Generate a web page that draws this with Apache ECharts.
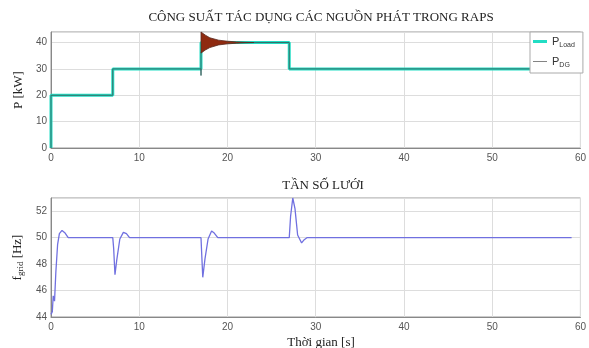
<!DOCTYPE html>
<html>
<head>
<meta charset="utf-8">
<script src="https://cdn.jsdelivr.net/npm/echarts@6/dist/echarts.min.js"></script>
<style>
  html, body { margin: 0; padding: 0; background: #fff; }
  #chart { width: 589px; height: 348px; }
</style>
</head>
<body>
<div id="chart"></div>
<script>
// cong suat phu tai (bac thang)
const pLoad = [[0, 0], [0, 20], [7, 20], [7, 30], [17, 30], [17, 40], [27, 40], [27, 30], [60, 30]]
// cong suat DG, ngoai doan dao dong
const pDG = [[0, 0], [0, 20], [7, 20], [7, 30], [17, 30], [17, 27.5], [17, 36], [17.3, 40], [23, 40], [27, 40], [27, 30], [60, 30]]
// bao tren / duoi cua dao dong P_DG sau t=17
const envT = [17, 17.5, 18, 19, 20, 21, 22, 23]
const envHi = [44, 42.8, 41.8, 40.9, 40.5, 40.25, 40.1, 40]
const envLo = [36, 37.2, 38.1, 39.1, 39.5, 39.75, 39.9, 40]
// tan so luoi
const fGrid = [
  [0, 44.2], [0.15, 44.4], [0.25, 45.6], [0.4, 45.2], [0.55, 47.4], [0.75, 49.5], [0.95, 50.3],
  [1.25, 50.55], [1.6, 50.35], [1.95, 50.0], [7, 50], [7.1, 49.2], [7.25, 47.2], [7.45, 48.3],
  [7.8, 49.9], [8.2, 50.4], [8.55, 50.3], [8.9, 50], [17, 50], [17.05, 49.2], [17.2, 47.0],
  [17.45, 48.4], [17.8, 49.9], [18.2, 50.5], [18.5, 50.35], [18.9, 50], [27, 50], [27.15, 51.6],
  [27.4, 53.0], [27.65, 52.2], [27.95, 50.2], [28.4, 49.6], [28.7, 49.85], [29, 50], [59, 50]
]
const xTicks = [0, 10, 20, 30, 40, 50, 60]
const pTicks = [0, 10, 20, 30, 40]
const fTicks = [44, 46, 48, 50, 52]

const chart = echarts.init(document.getElementById('chart'))

const serif = 'Liberation Serif'
const sans = 'Liberation Sans'

function xAxis(idx) {
  return {
    type: 'value', gridIndex: idx, min: 0, max: 60, interval: 10,
    axisLine: { lineStyle: { color: '#888' } },
    axisTick: { show: false },
    axisLabel: { color: '#555', fontFamily: sans, fontSize: 10, margin: 5,
      formatter: v => xTicks.includes(v) ? v : '' },
    splitLine: { lineStyle: { color: '#ddd' } },
  }
}

const option = {
  animation: false,
  title: [
    { text: 'CÔNG SUẤT TÁC DỤNG CÁC NGUỒN PHÁT TRONG RAPS', left: 316, top: 6, textAlign: 'center',
      textStyle: { fontFamily: serif, fontSize: 13, fontWeight: 'normal', color: '#222' } },
    { text: 'TẦN SỐ LƯỚI', left: 318, top: 174, textAlign: 'center',
      textStyle: { fontFamily: serif, fontSize: 13, fontWeight: 'normal', color: '#222' } },
    { text: 'Thời gian [s]', left: 316, top: 331, textAlign: 'center',
      textStyle: { fontFamily: serif, fontSize: 13, fontWeight: 'normal', color: '#222' } },
  ],
  grid: [
    { left: 51, top: 32, width: 531, height: 116, show: true, borderColor: '#999', borderWidth: 1 },
    { left: 51, top: 198, width: 531, height: 119, show: true, borderColor: '#999', borderWidth: 1 },
  ],
  xAxis: [xAxis(0), xAxis(1)],
  yAxis: [
    { type: 'value', gridIndex: 0, min: 0, max: 44, interval: 10,
      name: 'P [kW]', nameLocation: 'middle', nameGap: 22, nameRotate: 90,
      nameTextStyle: { fontFamily: serif, fontSize: 13, color: '#222' },
      axisLine: { show: true, lineStyle: { color: '#888' } }, axisTick: { show: false },
      axisLabel: { color: '#555', fontFamily: sans, fontSize: 10, margin: 4,
        formatter: v => pTicks.includes(v) ? v : '' },
      splitLine: { lineStyle: { color: '#ddd' } } },
    { type: 'value', gridIndex: 1, min: 44, max: 53, interval: 2,
      name: '{a|f}{b|grid}{a| [Hz]}', nameLocation: 'middle', nameGap: 22, nameRotate: 90,
      nameTextStyle: { rich: {
        a: { fontFamily: serif, fontSize: 13, color: '#222' },
        b: { fontFamily: serif, fontSize: 9, color: '#222', padding: [6, 0, 0, 0] } } },
      axisLine: { show: true, lineStyle: { color: '#888' } }, axisTick: { show: false },
      axisLabel: { color: '#555', fontFamily: sans, fontSize: 10, margin: 4,
        formatter: v => fTicks.includes(v) ? v : '' },
      splitLine: { lineStyle: { color: '#ddd' } } },
  ],
  legend: {
    show: true, orient: 'vertical', left: 530, top: 32, itemGap: 7,
    padding: [4, 8, 4, 3], itemWidth: 14, itemHeight: 10,
    backgroundColor: '#fff', borderColor: '#aaa', borderWidth: 1,
    data: [
      { name: 'Load', icon: 'path://M0,4 L14,4 L14,7 L0,7 Z', itemStyle: { color: '#22ddc4' } },
      { name: 'DG', icon: 'path://M0,5 L14,5 L14,5.8 L0,5.8 Z', itemStyle: { color: '#666' } },
    ],
    formatter: n => '{a|P}{b|' + n + '}',
    textStyle: { rich: {
      a: { fontFamily: sans, fontSize: 11, color: '#333' },
      b: { fontFamily: sans, fontSize: 7, color: '#333', padding: [8, 0, 0, 0] } } },
  },
  series: [
    { name: 'Load', type: 'line', xAxisIndex: 0, yAxisIndex: 0, data: pLoad, showSymbol: false,
      lineStyle: { color: '#22ddc4', width: 3 }, itemStyle: { color: '#22ddc4' }, z: 2 },
    { name: 'DG', type: 'line', xAxisIndex: 0, yAxisIndex: 0, data: pDG, showSymbol: false,
      lineStyle: { color: '#3a6a66', width: 1 }, itemStyle: { color: '#666' }, z: 3 },
    { name: 'DGband', type: 'custom', xAxisIndex: 0, yAxisIndex: 0, data: [0], z: 4,
      renderItem: (params, api) => {
        const pts = []
        envT.forEach((t, i) => pts.push(api.coord([t, envHi[i]])))
        for (let i = envT.length - 1; i >= 0; i--) pts.push(api.coord([envT[i], envLo[i]]))
        return { type: 'polygon', shape: { points: pts },
          style: { fill: '#8f2a10', stroke: '#5a2a20', lineWidth: 0.8 } }
      } },
    { name: 'f', type: 'line', xAxisIndex: 1, yAxisIndex: 1, data: fGrid, showSymbol: false,
      lineStyle: { color: '#7070e0', width: 1.3 } },
  ],
}

chart.setOption(option)
</script>
</body>
</html>
